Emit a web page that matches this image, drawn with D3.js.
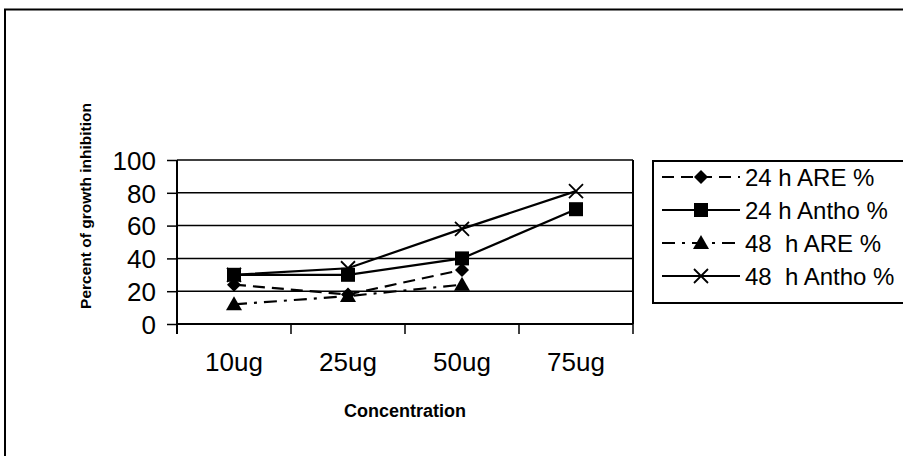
<!DOCTYPE html>
<html>
<head>
<meta charset="utf-8">
<script src="https://cdn.jsdelivr.net/npm/d3@7"></script>
<style>
  body { margin: 0; background: #fff; }
  text { font-family: "Liberation Sans", Arial, sans-serif; fill: #000; white-space: pre; }
</style>
</head>
<body>
<svg id="chart" width="903" height="456"></svg>
<script>
const categories = ["10ug", "25ug", "50ug", "75ug"];
const yTicks = [0, 20, 40, 60, 80, 100];
const are24 = [24, 18, 33, null];
const antho24 = [30, 30, 40, 70];
const are48 = [12, 17, 24, null];
const antho48 = [30, 34, 58, 81];

const seriesList = [
  { name: "24 h ARE %", values: are24, dash: "12,7", marker: "diamond" },
  { name: "24 h Antho %", values: antho24, dash: null, marker: "square" },
  { name: "48  h ARE %", values: are48, dash: "13,7,3,7", marker: "triangle" },
  { name: "48  h Antho %", values: antho48, dash: null, marker: "cross" }
];

const svg = d3.select("#chart");
const margin = { left: 177, right: 270, top: 160, bottom: 132 };
const width = 903 - margin.left - margin.right,
      height = 456 - margin.top - margin.bottom;

// outer frame (runs off the bottom/right of the picture)
svg.append("path")
  .attr("d", "M5,470 L5,9.5 L910,9.5")
  .attr("fill", "none").attr("stroke", "#000").attr("stroke-width", 2);

const g = svg.append("g").attr("transform", `translate(${margin.left},${margin.top})`);

const x = d3.scaleBand().domain(categories).range([0, width]);
const y = d3.scaleLinear().domain([0, 100]).range([height, 0]);

// gridlines
g.selectAll(".grid").data(yTicks.filter(d => d > 0)).enter().append("line")
  .attr("x1", 0).attr("x2", width)
  .attr("y1", d => y(d)).attr("y2", d => y(d))
  .attr("stroke", "#000").attr("stroke-width", 1.5);

// plot area right edge
g.append("line").attr("x1", width).attr("x2", width).attr("y1", 0).attr("y2", height)
  .attr("stroke", "#000").attr("stroke-width", 2);

const yAxis = g.append("g")
  .call(d3.axisLeft(y).tickValues(yTicks).tickSize(10).tickPadding(11).tickFormat(d3.format("d")));
yAxis.select(".domain").attr("stroke-width", 2).attr("d", `M0,${height + 10}V0`);
yAxis.selectAll(".tick line").attr("stroke-width", 1.5);
yAxis.selectAll("text").style("font-size", "26px").attr("dy", "0.36em");

const xAxis = g.append("g").attr("transform", `translate(0,${height})`)
  .call(d3.axisBottom(x).tickSize(0).tickPadding(0));
xAxis.select(".domain").attr("stroke-width", 2).attr("d", `M0,0H${width}`);
xAxis.selectAll("text").style("font-size", "26px").attr("y", 47).attr("dy", null);
// category boundary ticks
g.selectAll(".bt").data(d3.range(categories.length + 1)).enter().append("line")
  .attr("x1", i => i * x.bandwidth()).attr("x2", i => i * x.bandwidth())
  .attr("y1", height).attr("y2", height + 10)
  .attr("stroke", "#000").attr("stroke-width", 1.5);

svg.append("text")
  .attr("x", margin.left + width / 2).attr("y", 417)
  .attr("text-anchor", "middle")
  .style("font-size", "18px").style("font-weight", "bold")
  .text("Concentration");

svg.append("text")
  .attr("transform", "translate(91,206) rotate(-90)")
  .attr("text-anchor", "middle")
  .style("font-size", "15.5px").style("font-weight", "bold")
  .text("Percent of growth inhibition");

function drawMarker(sel, type, cx, cy) {
  if (type === "diamond") {
    sel.append("path").attr("d", `M${cx},${cy - 7}L${cx + 7},${cy}L${cx},${cy + 7}L${cx - 7},${cy}Z`).attr("fill", "#000");
  } else if (type === "square") {
    sel.append("rect").attr("x", cx - 7).attr("y", cy - 7).attr("width", 14).attr("height", 14).attr("fill", "#000");
  } else if (type === "triangle") {
    sel.append("path").attr("d", `M${cx},${cy - 8}L${cx + 8},${cy + 6}L${cx - 8},${cy + 6}Z`).attr("fill", "#000");
  } else {
    sel.append("path").attr("d", `M${cx - 7},${cy - 7}L${cx + 7},${cy + 7}M${cx + 7},${cy - 7}L${cx - 7},${cy + 7}`)
      .attr("stroke", "#000").attr("stroke-width", 1.8);
  }
}

const line = d3.line()
  .defined(d => d.v !== null)
  .x(d => x(d.c) + x.bandwidth() / 2)
  .y(d => y(d.v));

seriesList.forEach(s => {
  const pts = categories.map((c, i) => ({ c, v: s.values[i] }));
  g.append("path").datum(pts)
    .attr("d", line).attr("fill", "none")
    .attr("stroke", "#000").attr("stroke-width", 2.2)
    .attr("stroke-dasharray", s.dash);
  pts.filter(d => d.v !== null).forEach(d => {
    drawMarker(g, s.marker, x(d.c) + x.bandwidth() / 2, y(d.v));
  });
});

// legend
const legend = svg.append("g");
legend.append("rect").attr("x", 653).attr("y", 161).attr("width", 260).attr("height", 142)
  .attr("fill", "none").attr("stroke", "#000").attr("stroke-width", 2);
seriesList.forEach((s, i) => {
  const ly = 177 + i * 33;
  legend.append("line").attr("x1", 662).attr("x2", 740).attr("y1", ly).attr("y2", ly)
    .attr("stroke", "#000").attr("stroke-width", 2.2).attr("stroke-dasharray", s.dash);
  drawMarker(legend, s.marker, 701, ly);
  legend.append("text").attr("x", 745).attr("y", ly + 8.5)
    .style("font-size", "24px").text(s.name);
});
</script>
</body>
</html>
